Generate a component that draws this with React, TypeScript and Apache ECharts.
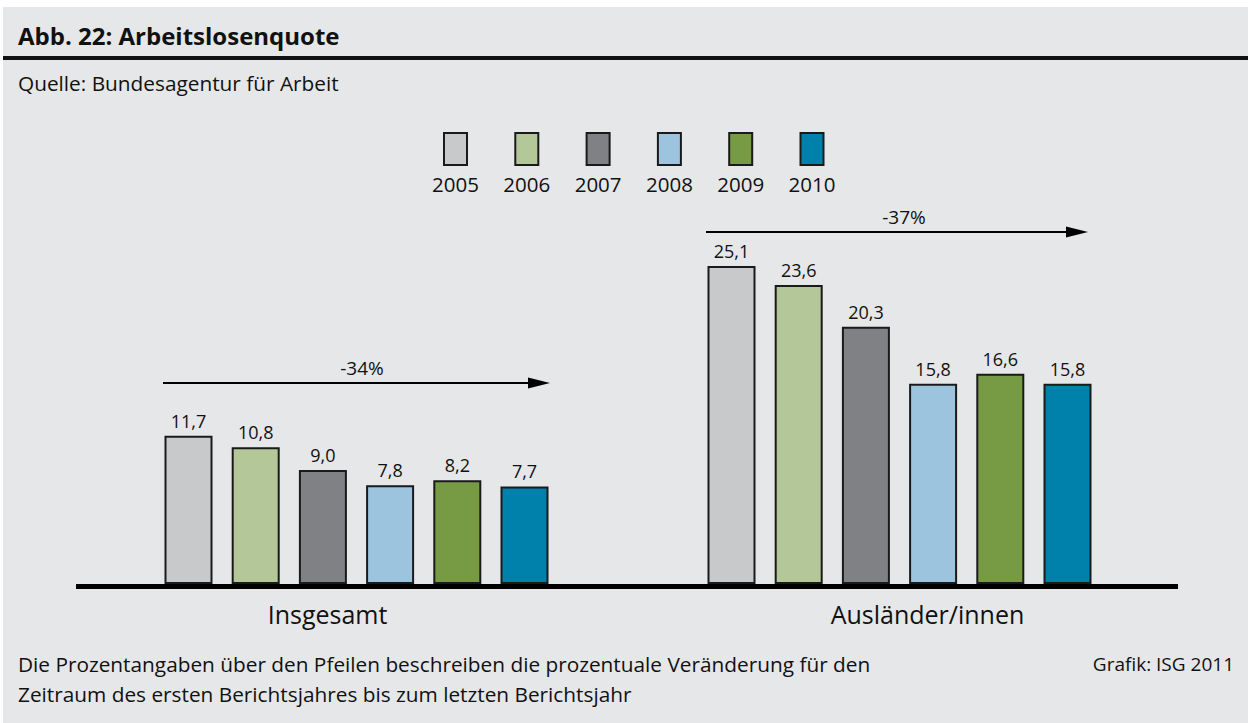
import React, { useEffect, useRef } from "react";
import * as echarts from "echarts";

const categories = ["Insgesamt", "Ausländer/innen"];
const years = ["2005", "2006", "2007", "2008", "2009", "2010"];
const values: number[][] = [
  [11.7, 25.1],
  [10.8, 23.6],
  [9.0, 20.3],
  [7.8, 15.8],
  [8.2, 16.6],
  [7.7, 15.8],
];
const colors = ["#c8c9cb", "#b3c798", "#808184", "#9cc4de", "#779a45", "#0081ac"];
const changes = ["-34%", "-37%"];

const FONT = "'Open Sans', 'Noto Sans', sans-serif";

export default function App() {
  const ref = useRef<HTMLDivElement>(null);
  useEffect(() => {
    const chart = echarts.init(ref.current!, null, { renderer: "svg" });
    const legendX0 = 443;
    const legendStep = 71.3;
    const graphic: any[] = [
      { type: "rect", shape: { x: 3, y: 7, width: 1245, height: 716 }, style: { fill: "#e6e7e8" }, z: -10 },
      { type: "rect", shape: { x: 3, y: 56, width: 1245, height: 4 }, style: { fill: "#111" } },
      { type: "text", x: 18, y: 35, style: { text: "Abb. 22: Arbeitslosenquote", font: `bold 24px ${FONT}`, fill: "#111", textVerticalAlign: "middle" } },
      { type: "text", x: 18, y: 83, style: { text: "Quelle: Bundesagentur für Arbeit", font: `20.8px ${FONT}`, fill: "#111", textVerticalAlign: "middle" } },
      { type: "rect", shape: { x: 76, y: 584, width: 1102, height: 5 }, style: { fill: "#000" } },
      // arrows
      { type: "line", shape: { x1: 163, y1: 383, x2: 530, y2: 383 }, style: { stroke: "#000", lineWidth: 2 } },
      { type: "polygon", shape: { points: [[528, 377.5], [550, 383], [528, 388.5]] }, style: { fill: "#000" } },
      { type: "text", x: 362, y: 368, style: { text: changes[0], font: `19px ${FONT}`, fill: "#111", textAlign: "center", textVerticalAlign: "middle" } },
      { type: "line", shape: { x1: 706, y1: 232, x2: 1068, y2: 232 }, style: { stroke: "#000", lineWidth: 2 } },
      { type: "polygon", shape: { points: [[1066, 226.5], [1088, 232], [1066, 237.5]] }, style: { fill: "#000" } },
      { type: "text", x: 904, y: 217, style: { text: changes[1], font: `19px ${FONT}`, fill: "#111", textAlign: "center", textVerticalAlign: "middle" } },
      // footer
      { type: "text", x: 18, y: 664, style: { text: "Die Prozentangaben über den Pfeilen beschreiben die prozentuale Veränderung für den", font: `20.8px ${FONT}`, fill: "#111", textVerticalAlign: "middle" } },
      { type: "text", x: 18, y: 694, style: { text: "Zeitraum des ersten Berichtsjahres bis zum letzten Berichtsjahr", font: `20.8px ${FONT}`, fill: "#111", textVerticalAlign: "middle" } },
      { type: "text", x: 1234, y: 664, style: { text: "Grafik: ISG 2011", font: `19px ${FONT}`, fill: "#111", textAlign: "right", textVerticalAlign: "middle" } },
    ];
    years.forEach((y, i) => {
      graphic.push({
        type: "text",
        x: legendX0 + 12.5 + i * legendStep,
        y: 184,
        style: { text: y, font: `20.5px ${FONT}`, fill: "#111", textAlign: "center", textVerticalAlign: "middle" },
      });
    });

    chart.setOption({
      animation: false,
      backgroundColor: "#ffffff",
      textStyle: { fontFamily: FONT },
      grid: { left: 85, right: 77, top: 204, bottom: 139 },
      legend: {
        data: years,
        left: legendX0,
        top: 132,
        padding: 0,
        itemWidth: 23,
        itemHeight: 32,
        itemGap: 46.3,
        formatter: () => "",
        selectedMode: false,
        icon: "rect",
      },
      xAxis: {
        type: "category",
        data: categories,
        axisLine: { show: false },
        axisTick: { show: false },
        axisLabel: {
          margin: 17,
          formatter: (v: string, i: number) => (i === 0 ? `{a|${v}}` : `{b|${v}}`),
          rich: {
            a: { fontSize: 25, color: "#111", fontFamily: FONT, padding: [0, 58, 0, 0] },
            b: { fontSize: 25, color: "#111", fontFamily: FONT, padding: [0, 0, 0, 56] },
          },
        },
      },
      yAxis: { type: "value", min: 0, max: 30, show: false, splitLine: { show: false } },
      graphic,
      series: years.map((y, i) => ({
        name: y,
        type: "bar",
        data: values[i],
        barWidth: 48,
        barGap: "40%",
        itemStyle: { color: colors[i], borderColor: "#1a1a1a", borderWidth: 2 },
        label: {
          show: true,
          position: "top",
          distance: 6,
          fontSize: 18,
          color: "#111",
          fontFamily: FONT,
          formatter: (p: any) => Number(p.value).toFixed(1).replace(".", ","),
        },
      })),
    });
    return () => chart.dispose();
  }, []);
  return (
    <div style={{ position: "fixed", left: 0, top: 0, width: 1248, height: 723 }}>
      <div ref={ref} style={{ width: 1248, height: 723 }} />
    </div>
  );
}
